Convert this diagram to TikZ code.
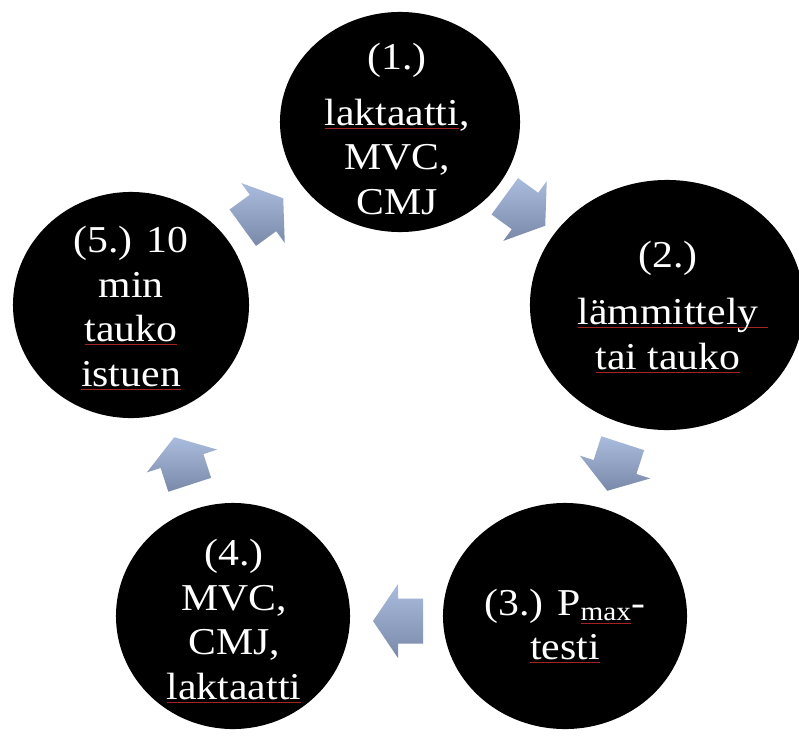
\documentclass[tikz,border=0pt]{standalone}
\usepackage{fontspec}
\setmainfont{Liberation Serif}[FakeStretch=1.1]
\usepackage{xcolor}
\usetikzlibrary{calc,shapes.geometric}
\definecolor{arTop}{RGB}{170,188,222}
\definecolor{arBot}{RGB}{122,137,168}
\definecolor{splred}{RGB}{165,35,35}
% red wavy-ish underline of the spell checker
\newcommand{\spl}[2][0pt]{\setbox0\hbox{#2}\rlap{\textcolor{splred}{\rule[-2.6pt]{\dimexpr\wd0+#1\relax}{0.6pt}}}\box0}
% block arrow centred at a coordinate, pointing at an angle
\newcommand{\blockarrow}[2]{%
  \shade[blk] ($(#1)+(#2:25)$) -- ($(#1)+(#2+90:37)$) -- ($(#1)+(#2+90:22.5)$)
    -- ($(#1)+(#2+90:22.5)+(#2:-25)$) -- ($(#1)+(#2-90:22.5)+(#2:-25)$)
    -- ($(#1)+(#2-90:22.5)$) -- ($(#1)+(#2-90:37)$) -- cycle;}
\begin{document}
\begin{tikzpicture}[x=0.025cm,y=-0.025cm,
  disc/.style={ellipse,fill=black,inner sep=0pt,outer sep=0pt},
  lbl/.style={text=white,align=center,inner sep=0pt,font=\fontsize{27}{31.6}\selectfont},
  blk/.style={top color=arTop,bottom color=arBot}
]
\fill[white] (0,0) rectangle (799,735);
\useasboundingbox (0,0) rectangle (799,735);
\clip (0,0) rectangle (799,735);

\node[disc,minimum width=6cm,minimum height=5.5cm] (c1) at (400,122) {};
\node[disc,minimum width=6.85cm,minimum height=6.25cm] (c2) at (667,305) {};
\node[disc,minimum width=6.1cm,minimum height=5.65cm] (c3) at (565,616) {};
\node[disc,minimum width=5.85cm,minimum height=5.65cm] (c4) at (233,616) {};
\node[disc,minimum width=5.9cm,minimum height=5.65cm] (c5) at (131,305) {};

\node[lbl] (t1) at ($(c1.center)+(-3,7)$) {(1.)\\[7.8pt]\spl{laktaatti},\\MVC,\\CMJ};
\node[lbl] (t2) at ($(c2.center)+(1,2)$) {(2.)\\[9pt]\spl[7pt]{lämmittely}\\\spl{tai tauko}};
\node[lbl] (t3) at ($(c3.center)+(0,10)$) {(3.) P\textsubscript{\spl{max}}-\\\spl{testi}};
\node[lbl] (t4) at ($(c4.center)+(1,5)$) {(4.)\\MVC,\\CMJ,\\\spl{laktaatti}};
\node[lbl] (t5) at ($(c5.center)+(0,3)$) {(5.) 10\\min\\\spl{tauko}\\\spl{istuen}};

% arrows between the steps
\coordinate (a12) at (525,211);
\coordinate (a23) at (615,467);
\coordinate (a34) at (398,621);
\coordinate (a45) at (182,461);
\coordinate (a51) at (263,213);
\blockarrow{a12}{36}
\blockarrow{a23}{108}
\blockarrow{a34}{180}
\blockarrow{a45}{-108}
\blockarrow{a51}{-36}
\end{tikzpicture}
\end{document}
